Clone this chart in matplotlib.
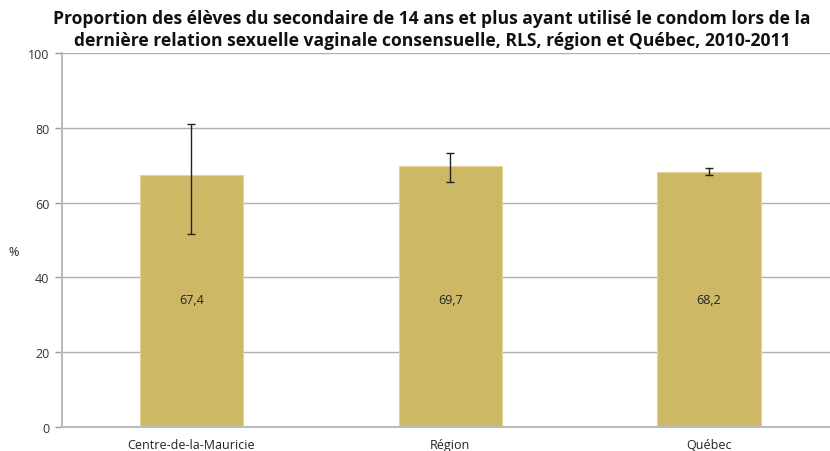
import matplotlib
matplotlib.use("Agg")
import matplotlib.pyplot as plt

plt.rcParams['font.family'] = ['Open Sans', 'DejaVu Sans']

categories = ["Centre-de-la-Mauricie", "Région", "Québec"]
values = [67.4, 69.7, 68.2]
err_low = [51.6, 65.4, 67.4]
err_high = [81.1, 73.3, 69.3]
labels = ["67,4", "69,7", "68,2"]
yticks = [0, 20, 40, 60, 80, 100]

fig = plt.figure(figsize=(8.3, 4.52), dpi=100)
ax = fig.add_axes([62/830, 24/452, 768/830, 374/452])

x = list(range(len(categories)))
yerr = [[v - l for v, l in zip(values, err_low)], [h - v for v, h in zip(values, err_high)]]
ax.bar(x, values, width=0.40, color="#CDB866", edgecolor="#E3D49A", linewidth=0.8, zorder=2)
ax.errorbar(x, values, yerr=yerr, fmt="none", ecolor="#222222", elinewidth=1.0, capsize=3, capthick=1.0, zorder=3)

for xi, v, lab in zip(x, values, labels):
    ax.text(xi, 34, lab, ha="center", va="center", fontsize=9, color="#222222", zorder=4)

ax.set_xlim(-0.5, 2.467)
ax.set_ylim(0, 100)
ax.set_yticks(yticks)
ax.set_yticklabels([str(t) for t in yticks], fontsize=9, color="#333333")
ax.set_xticks(x)
ax.set_xticklabels(categories, fontsize=9, color="#222222")
ax.tick_params(axis="x", length=0, pad=8)
ax.tick_params(axis="y", length=5, color="#999999", width=1, pad=4)
ax.yaxis.grid(True, color="#B0B0B0", linewidth=1.0, zorder=0)
ax.set_axisbelow(True)
for s in ["top", "right"]:
    ax.spines[s].set_visible(False)
ax.spines["left"].set_color("#BBBBBB")
ax.spines["left"].set_linewidth(1.5)
ax.spines["bottom"].set_color("#BBBBBB")
ax.spines["bottom"].set_linewidth(1.5)

fig.text(14/830, 1 - 253/452, "%", fontsize=9, color="#222222", ha="center", va="center")

fig.text(432/830, 1 - 30/452,
         "Proportion des élèves du secondaire de 14 ans et plus ayant utilisé le condom lors de la\n"
         "dernière relation sexuelle vaginale consensuelle, RLS, région et Québec, 2010-2011",
         ha="center", va="center", fontsize=12.6, fontweight="bold", color="#111111", linespacing=1.25)

fig.savefig("out.png", dpi=100)
